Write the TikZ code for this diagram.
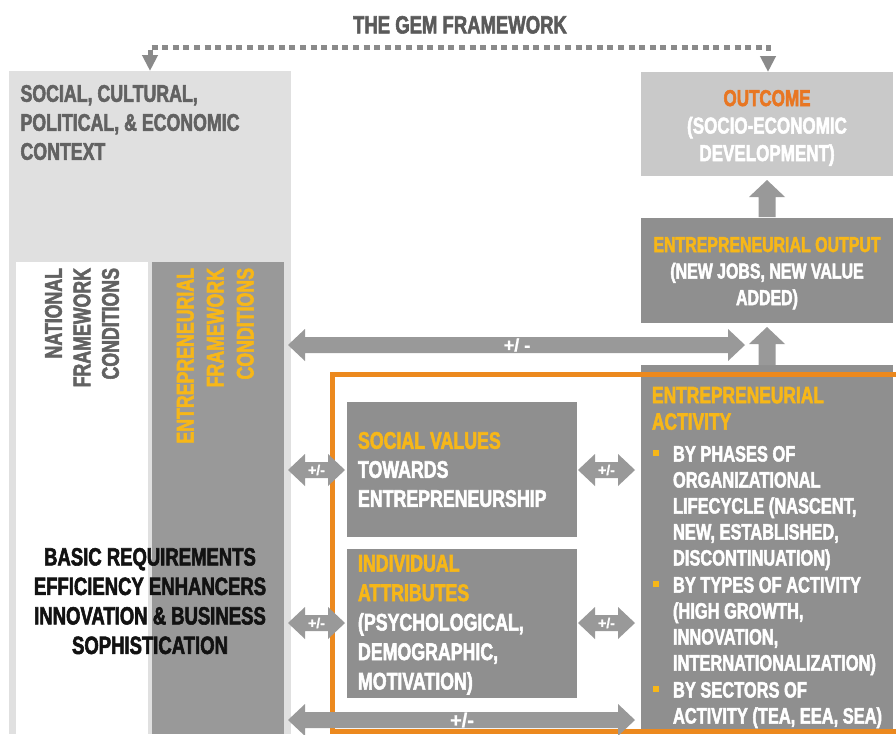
\documentclass[tikz,border=0pt]{standalone}
\usepackage{fontspec}
\setmainfont{Liberation Sans}[FakeStretch=0.74, BoldFeatures={FakeBold=2.2}]
\newfontfamily\plainsans{Liberation Sans}[BoldFeatures={FakeBold=1}]
\usetikzlibrary{arrows.meta}
\definecolor{ctxgray}{HTML}{E0E0E0}
\definecolor{outgray}{HTML}{C9C9C9}
\definecolor{boxgray}{HTML}{8F8F8F}
\definecolor{colgray}{HTML}{999999}
\definecolor{arrowgray}{HTML}{999999}
\definecolor{titlegray}{HTML}{5A5A5A}
\definecolor{ctxtext}{HTML}{626262}
\definecolor{gemyellow}{RGB}{247,183,24}
\definecolor{gemorange}{RGB}{232,118,34}
\definecolor{orangeline}{RGB}{236,137,30}
\definecolor{dotgray}{HTML}{8A8A8A}
\newcommand{\fs}[2]{\fontsize{#1}{#2}\selectfont\bfseries}
\newcommand{\ps}[1]{\plainsans\fontsize{#1}{#1}\selectfont\bfseries}
% horizontal double block arrow: left tip x, right tip x, y
\newcommand{\hdarrow}[3]{%
  \fill[arrowgray] (#1,#3) -- ++(17,-16) -- ++(0,8) -- (#2-17,#3-8) -- ++(0,-8) -- (#2,#3)
    -- ++(-17,16) -- ++(0,-8) -- (#1+17,#3+8) -- ++(0,8) -- cycle;}
% vertical up block arrow: x, tip y, bottom y
\newcommand{\uparr}[3]{%
  \fill[arrowgray] (#1,#2) -- ++(18,17) -- ++(-9.5,0) -- (#1+8.5,#3) -- (#1-8.5,#3)
    -- (#1-8.5,#2+17) -- ++(-9.5,0) -- cycle;}
\begin{document}
\begin{tikzpicture}[x=1pt,y=-1pt,
  every node/.style={inner sep=0pt, outer sep=0pt},
  gemdots/.style={draw=dotgray, line width=5pt, dash pattern=on 6pt off 4.6pt}]
\useasboundingbox (0,0) rectangle (896,734);
\fill[white] (0,0) rectangle (896,734);

% title
\node[anchor=north, text=titlegray, font=\fs{25}{25}] (title) at (460,16) {THE GEM FRAMEWORK};

% boxes
\node[anchor=north west, fill=ctxgray, minimum width=282pt, minimum height=663pt] (ctx) at (9,71) {};
\node[anchor=north west, fill=white, minimum width=132pt, minimum height=472pt] (nfc) at (16,262) {};
\node[anchor=north west, fill=colgray, minimum width=132pt, minimum height=472pt] (efc) at (152,262) {};
\node[anchor=north west, fill=outgray, minimum width=252pt, minimum height=104pt] (outcome) at (641,72) {};
\node[anchor=north west, fill=boxgray, minimum width=252pt, minimum height=105pt] (output) at (641,218) {};
\node[anchor=north west, fill=boxgray, minimum width=252pt, minimum height=364pt] (activity) at (641,365) {};
\node[anchor=north west, fill=boxgray, minimum width=230pt, minimum height=135pt] (sv) at (347,402) {};
\node[anchor=north west, fill=boxgray, minimum width=230pt, minimum height=149pt] (ia) at (347,549) {};

% orange frame
\draw[orangeline, line width=4.5pt] (332.5,374.5) rectangle (930,731.5);

% dotted connector
\coordinate (dl) at (150,71);
\coordinate (dr) at (768,72);
\draw[gemdots, {Triangle[length=16pt,width=15pt]}-{Triangle[length=16pt,width=15pt]}]
  (dl) -- (150,47) -- (768,47) -- (dr);

% texts
\node[anchor=north west, align=left, text=ctxtext, font=\fs{24}{29}] (ctxlbl) at (20.5,85)
  {SOCIAL, CULTURAL,\\POLITICAL, \& ECONOMIC\\CONTEXT};
\node[rotate=90, anchor=north east, align=right, text=ctxtext, font=\fs{24}{28.5}] (nfclbl) at (45,268)
  {NATIONAL\\FRAMEWORK\\CONDITIONS};
\node[rotate=90, anchor=north east, align=right, text=gemyellow, font=\fs{24}{30}] (efclbl) at (177,268)
  {ENTREPRENEURIAL\\FRAMEWORK\\CONDITIONS};
\node[anchor=north, align=center, text=black!93, font=\fs{25}{29.5}] (pillars) at (150,548)
  {BASIC REQUIREMENTS\\EFFICIENCY ENHANCERS\\INNOVATION \& BUSINESS\\SOPHISTICATION};
\node[anchor=north, align=center, text=white, font=\fs{23}{27.5}] (outcomelbl) at (767,90)
  {\textcolor{gemorange}{OUTCOME}\\(SOCIO-ECONOMIC\\DEVELOPMENT)};
\node[anchor=north, align=center, text=white, font=\fs{21.5}{26.5}] (outputlbl) at (767,237)
  {\textcolor{gemyellow}{ENTREPRENEURIAL OUTPUT}\\(NEW JOBS, NEW VALUE\\ADDED)};
\node[anchor=north west, align=left, text=white, font=\fs{24}{29}] (svlbl) at (358,432)
  {\textcolor{gemyellow}{SOCIAL VALUES}\\TOWARDS\\ENTREPRENEURSHIP};
\node[anchor=north west, align=left, text=white, font=\fs{24}{29.5}] (ialbl) at (358,555)
  {\textcolor{gemyellow}{INDIVIDUAL}\\\textcolor{gemyellow}{ATTRIBUTES}\\(PSYCHOLOGICAL,\\DEMOGRAPHIC,\\MOTIVATION)};
\node[anchor=north west, align=left, text=gemyellow, font=\fs{23.5}{26.5}] (actlbl) at (652,387)
  {ENTREPRENEURIAL\\ACTIVITY};
\node[anchor=north west, align=left, text=white, font=\fs{22.2}{26}] (b1) at (673,446)
  {BY PHASES OF\\ORGANIZATIONAL\\LIFECYCLE (NASCENT,\\NEW, ESTABLISHED,\\DISCONTINUATION)};
\node[anchor=north west, align=left, text=white, font=\fs{22.2}{26}] (b2) at (673,577)
  {BY TYPES OF ACTIVITY\\(HIGH GROWTH,\\INNOVATION,\\INTERNATIONALIZATION)};
\node[anchor=north west, align=left, text=white, font=\fs{22.2}{26}] (b3) at (673,682)
  {BY SECTORS OF\\ACTIVITY (TEA, EEA, SEA)};
\fill[gemyellow] (653,450) rectangle (659,456);
\fill[gemyellow] (653,581) rectangle (659,587);
\fill[gemyellow] (653,686) rectangle (659,692);

% block arrows
\uparr{767}{180}{217}
\uparr{767}{327}{365}
\hdarrow{288}{745}{345}
\hdarrow{288}{345}{470}
\hdarrow{578}{635}{470}
\hdarrow{288}{345}{623}
\hdarrow{578}{635}{623}
\hdarrow{288}{635}{720}

% arrow labels
\node[text=white, font=\ps{18}] (pm0) at (517,345) {+/ -};
\node[text=white, font=\ps{14}] (pm1) at (316.5,470) {+/-};
\node[text=white, font=\ps{14}] (pm2) at (606.5,470) {+/-};
\node[text=white, font=\ps{14}] (pm3) at (316.5,623) {+/-};
\node[text=white, font=\ps{14}] (pm4) at (606.5,623) {+/-};
\node[text=white, font=\ps{20}] (pm5) at (462,720) {+/-};
\end{tikzpicture}
\end{document}
